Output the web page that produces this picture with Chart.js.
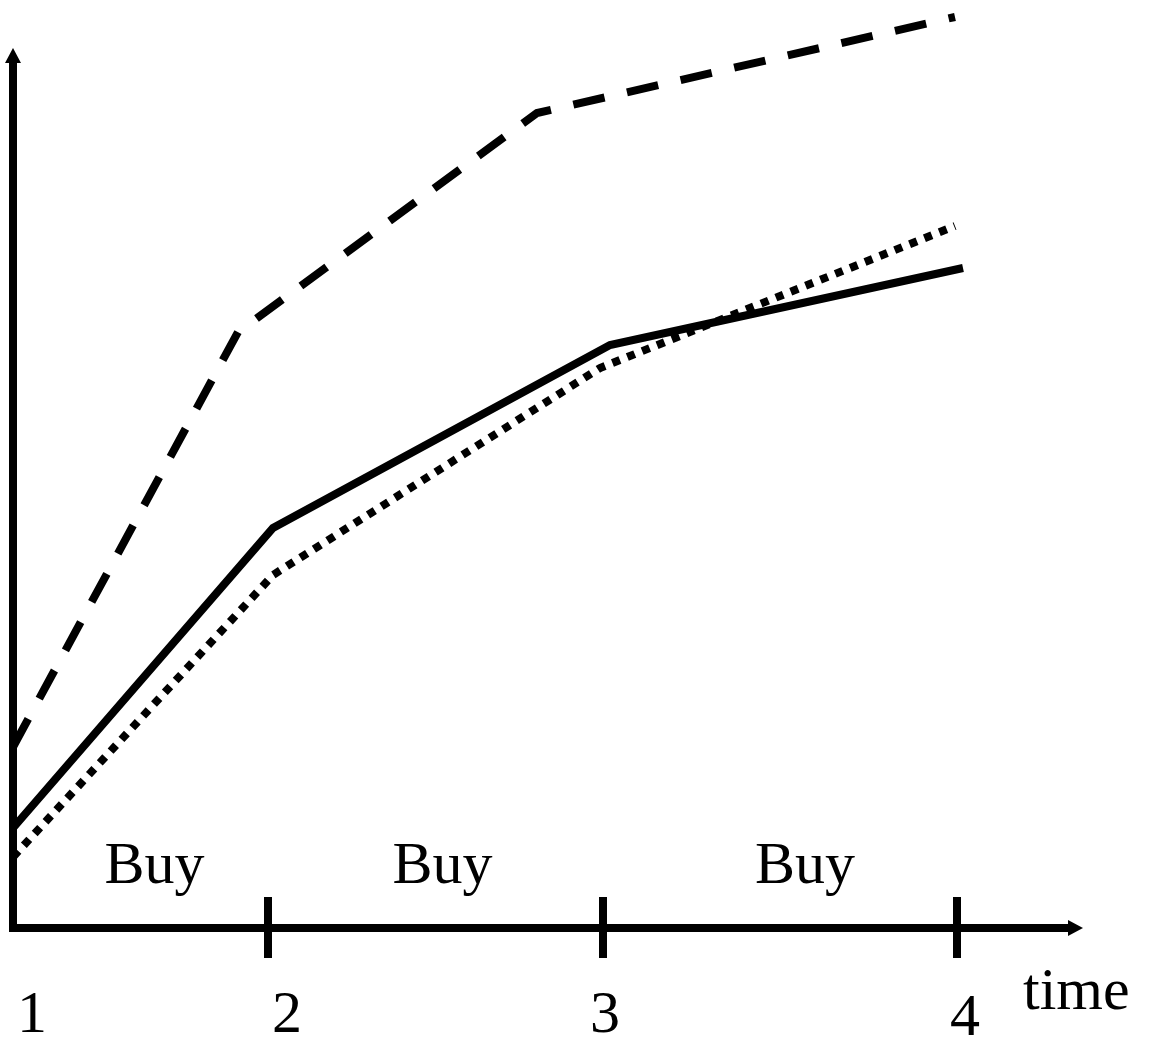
<!DOCTYPE html>
<html>
<head>
<meta charset="utf-8">
<script src="https://cdn.jsdelivr.net/npm/chart.js@4"></script>
<style>
  body { margin: 0; background: #fff; }
</style>
</head>
<body>
<canvas id="myChart" width="1153" height="1038"></canvas>
<script>
// time axis: tick positions (in x units) and their labels
const timeTicks = [0, 2.55, 5.90, 9.44];
const timeLabels = ['1', '2', '3', '4'];
const phaseLabels = ['Buy', 'Buy', 'Buy'];

// the three curves
const dashedX = [0, 2.25, 5.24, 9.42];
const dashedY = [1.81, 5.96, 8.15, 9.11];
const solidX = [0, 2.60, 5.97, 9.50];
const solidY = [1.00, 4.00, 5.83, 6.60];
const dottedX = [0, 2.60, 5.87, 9.42];
const dottedY = [0.71, 3.53, 5.60, 7.02];

const xEnd = 10.7;
const yEnd = 8.80;

function toPoints(xs, ys) {
    return xs.map((x, i) => ({ x: x, y: ys[i] }));
}

const serif = '"Liberation Serif", "Times New Roman", serif';

const axesPlugin = {
    id: 'axes',
    afterDatasetsDraw(chart) {
        const ctx = chart.ctx;
        const xs = chart.scales.x;
        const ys = chart.scales.y;
        const x0 = xs.getPixelForValue(0);
        const y0 = ys.getPixelForValue(0);
        const xTip = xs.getPixelForValue(xEnd);
        const yTip = ys.getPixelForValue(yEnd);

        ctx.save();
        ctx.strokeStyle = '#000';
        ctx.fillStyle = '#000';
        ctx.lineWidth = 8;
        ctx.lineCap = 'butt';

        // y axis
        ctx.beginPath();
        ctx.moveTo(x0, y0 + 4);
        ctx.lineTo(x0, yTip + 14);
        ctx.stroke();
        ctx.beginPath();
        ctx.moveTo(x0, yTip);
        ctx.lineTo(x0 - 8, yTip + 15);
        ctx.lineTo(x0 + 8, yTip + 15);
        ctx.closePath();
        ctx.fill();

        // x axis
        ctx.beginPath();
        ctx.moveTo(x0, y0);
        ctx.lineTo(xTip - 14, y0);
        ctx.stroke();
        ctx.beginPath();
        ctx.moveTo(xTip, y0);
        ctx.lineTo(xTip - 15, y0 - 8);
        ctx.lineTo(xTip - 15, y0 + 8);
        ctx.closePath();
        ctx.fill();

        // tick marks crossing the axis
        timeTicks.forEach((t, i) => {
            if (i === 0) return;
            const px = xs.getPixelForValue(t);
            ctx.beginPath();
            ctx.moveTo(px, y0 - 31);
            ctx.lineTo(px, y0 + 30);
            ctx.stroke();
        });

        ctx.font = '60px ' + serif;
        ctx.textAlign = 'center';
        ctx.textBaseline = 'alphabetic';

        // tick labels
        const nudge = [19, 19, 2, 8];
        timeLabels.forEach((lab, i) => {
            const px = xs.getPixelForValue(timeTicks[i]);
            ctx.fillText(lab, px + nudge[i], y0 + 104 + (i === 3 ? 3 : 0));
        });

        // phase labels between ticks
        const phaseNudge = [14, 7, 25];
        phaseLabels.forEach((lab, i) => {
            const mid = (xs.getPixelForValue(timeTicks[i]) + xs.getPixelForValue(timeTicks[i + 1])) / 2;
            ctx.fillText(lab, mid + phaseNudge[i], y0 - 45);
        });

        ctx.textAlign = 'left';
        ctx.fillText('time', xTip - 60, y0 + 81);
        ctx.restore();
    }
};

const ctx = document.getElementById('myChart');

const chart = new Chart(ctx, {
    type: 'line',
    data: {
        datasets: [{
            label: 'dashed',
            data: toPoints(dashedX, dashedY),
            borderColor: '#000',
            borderWidth: 8,
            borderDash: [32, 23],
            borderCapStyle: 'butt',
            borderJoinStyle: 'miter',
            pointRadius: 0,
            tension: 0,
            clip: false
        }, {
            label: 'dotted',
            data: toPoints(dottedX, dottedY),
            borderColor: '#000',
            borderWidth: 8,
            borderDash: [8, 8],
            borderCapStyle: 'butt',
            borderJoinStyle: 'miter',
            pointRadius: 0,
            tension: 0,
            clip: false
        }, {
            label: 'solid',
            data: toPoints(solidX, solidY),
            borderColor: '#000',
            borderWidth: 8,
            borderCapStyle: 'butt',
            borderJoinStyle: 'miter',
            pointRadius: 0,
            tension: 0,
            clip: false
        }]
    },
    options: {
        responsive: false,
        animation: false,
        layout: {
            padding: { left: 13, right: 70, top: 10, bottom: 110 }
        },
        plugins: {
            legend: { display: false },
            tooltip: { enabled: false }
        },
        scales: {
            x: { type: 'linear', display: false, min: 0, max: xEnd },
            y: { display: false, min: 0, max: 9.18 }
        }
    },
    plugins: [axesPlugin]
});
</script>
</body>
</html>
